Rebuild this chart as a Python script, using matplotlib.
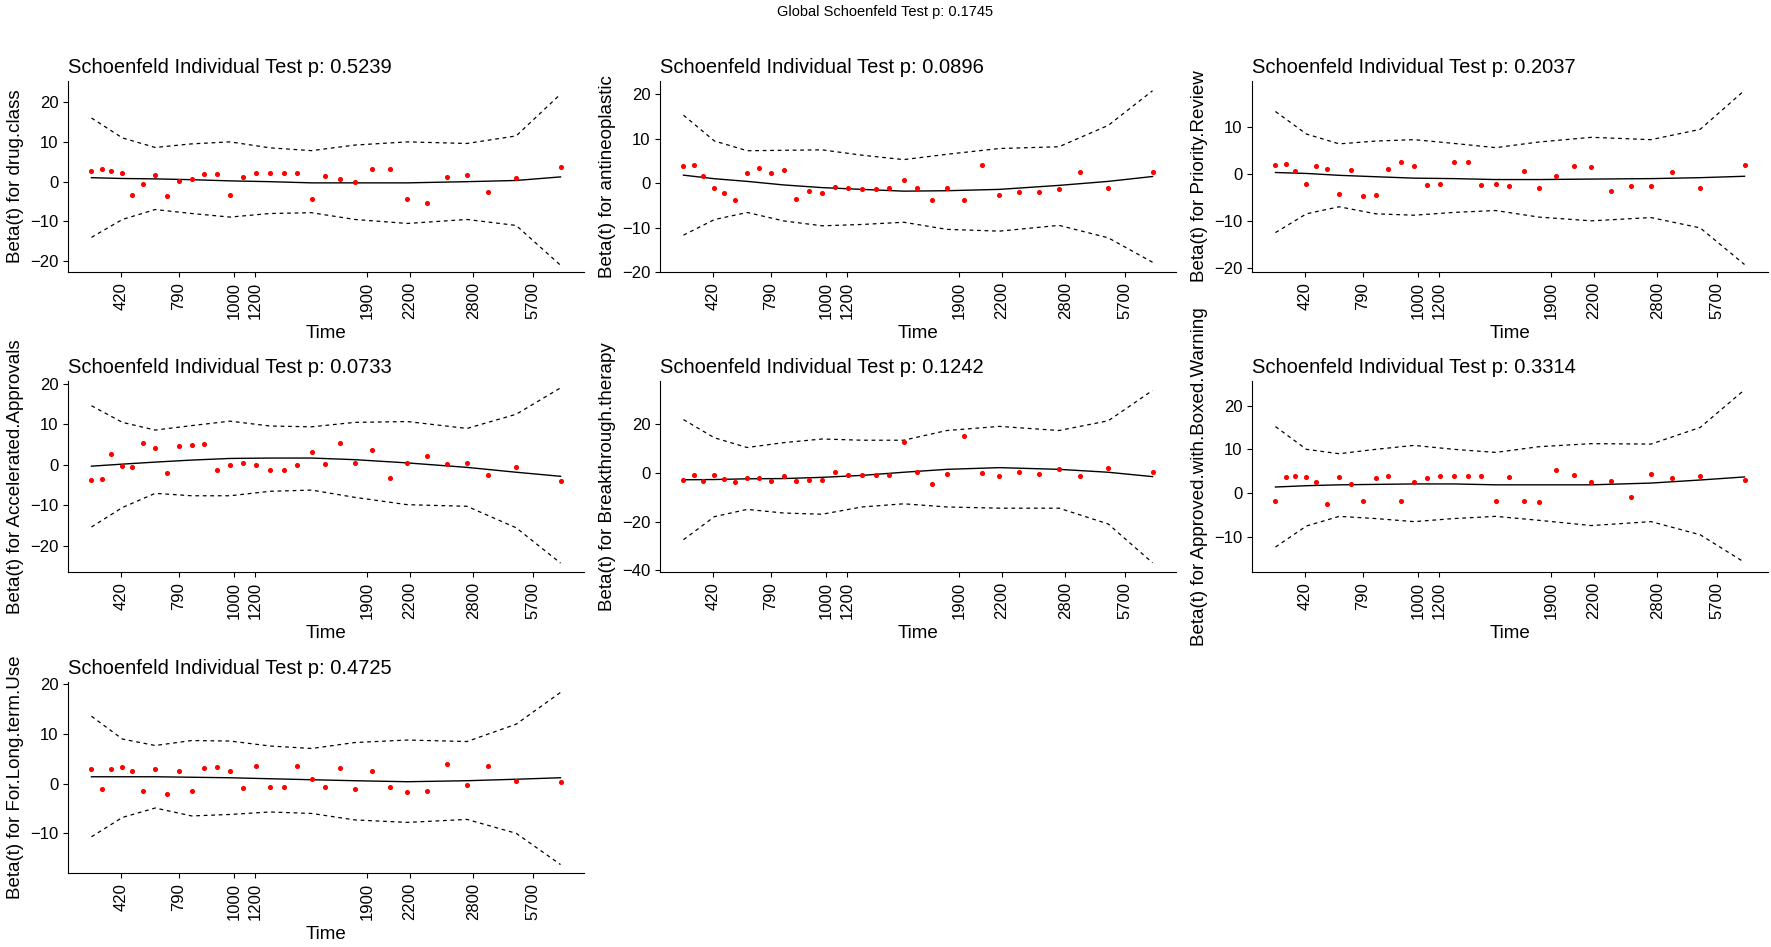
import numpy as np
import matplotlib.pyplot as plt

plt.rcParams['font.family'] = ['Liberation Sans', 'DejaVu Sans']

# transformed (KM) time scale of the event times
KM_TIME = [225, 252, 278, 308, 335, 364, 396, 428, 459, 494, 528, 563, 597, 632, 667, 704,
           741, 778, 816, 853, 892, 932, 977, 1025, 1073, 1126, 1180, 1233, 1290, 1365, 1484]
KNOTS = [0, 3, 6, 9, 12, 15, 18, 21, 24, 27, 29, 30]  # indices where the smooth is given
TICK_POS = [305, 460, 608, 665, 965, 1080, 1250, 1410]
TICK_LAB = ["420", "790", "1000", "1200", "1900", "2200", "2800", "5700"]

PANELS = [
    {"var": "drug.class", "p": 0.5239, "ylim": (-22.7, 25.3), "yticks": [-20, -10, 0, 10, 20],
     "resid": [2.6, 3.1, 2.6, 2.3, -3.4, -0.6, 1.6, -3.6, 0.1, 0.6, 1.9, 1.9, -3.4, 1.1, 2.3, 2.3,
               2.3, 2.3, -4.4, 1.3, 0.6, -0.1, 3.1, 3.3, -4.4, -5.4, 1.1, 1.6, -2.6, 0.8, 3.6],
     "fit": [1.0, 0.8, 0.7, 0.5, 0.2, 0.0, -0.3, -0.3, -0.3, 0.0, 0.3, 1.2],
     "upper": [16, 11, 8.6, 9.5, 10, 8.5, 7.8, 9.2, 10, 9.6, 11.5, 22],
     "lower": [-14, -9.5, -7, -8, -8.9, -8, -7.8, -9.5, -10.5, -9.5, -11, -21]},
    {"var": "antineoplastic", "p": 0.0896, "ylim": (-19.8, 23), "yticks": [-20, -10, 0, 10, 20],
     "resid": [3.8, 4.0, 1.7, -1.0, -2.3, -3.7, 2.4, 3.5, 2.4, 2.9, -3.5, -1.7, -2.3, -0.8, -1.1, -1.4,
               -1.4, -1.1, 0.6, -1.1, -3.9, -1.1, -3.7, 4.0, -2.6, -2.1, -1.9, -1.4, 2.6, -1.2, 2.6],
     "fit": [1.8, 1.0, 0.4, -0.4, -1.0, -1.4, -1.8, -1.7, -1.4, -0.5, 0.4, 1.5],
     "upper": [15.3, 9.5, 7.3, 7.4, 7.5, 6.3, 5.3, 6.5, 7.8, 8.2, 13.0, 20.8],
     "lower": [-11.7, -8.2, -6.6, -8.5, -9.6, -9.3, -8.8, -10.4, -10.8, -9.5, -12.3, -17.8]},
    {"var": "Priority.Review", "p": 0.2037, "ylim": (-20.9, 19.8), "yticks": [-20, -10, 0, 10],
     "resid": [1.9, 2.1, 0.6, -2.2, 1.7, 1.0, -4.3, 0.8, -4.7, -4.5, 1.1, 2.5, 1.7, -2.4, -2.2, 2.5,
               2.5, -2.4, -2.2, -2.6, 0.6, -3.0, -0.4, 1.7, 1.5, -3.7, -2.6, -2.6, 0.4, -3.0, 1.9],
     "fit": [0.3, 0.1, -0.3, -0.6, -0.9, -1.0, -1.2, -1.2, -1.1, -1.0, -0.8, -0.5],
     "upper": [13.3, 8.5, 6.4, 7.0, 7.3, 6.5, 5.6, 6.8, 7.8, 7.3, 9.5, 17.8],
     "lower": [-12.5, -8.5, -7.0, -8.5, -8.8, -8.2, -7.8, -9.2, -10.0, -9.3, -11.5, -19.3]},
    {"var": "Accelerated.Approvals", "p": 0.0733, "ylim": (-26.4, 20.7), "yticks": [-20, -10, 0, 10, 20],
     "resid": [-3.7, -3.4, 2.8, -0.2, -0.4, 5.3, 4.3, -1.9, 4.6, 4.8, 5.1, -1.2, 0.0, 0.6, 0.0, -1.2,
               -1.2, 0.0, 3.1, 0.3, 5.3, 0.6, 3.6, -3.2, 0.6, 2.1, 0.3, 0.6, -2.4, -0.4, -3.9],
     "fit": [-0.3, 0.2, 0.7, 1.2, 1.6, 1.7, 1.7, 1.3, 0.5, -0.6, -1.8, -2.8],
     "upper": [14.6, 10.5, 8.6, 9.7, 10.8, 9.6, 9.4, 10.5, 10.7, 9.0, 12.5, 19.0],
     "lower": [-15.3, -10.5, -7.0, -7.6, -7.6, -6.5, -6.2, -8.0, -9.8, -10.2, -15.5, -24.2]},
    {"var": "Breakthrough.therapy", "p": 0.1242, "ylim": (-40.8, 37.9), "yticks": [-40, -20, 0, 20],
     "resid": [-3.0, -1.0, -3.4, -0.7, -2.6, -3.9, -2.2, -2.2, -3.4, -1.4, -3.4, -3.0, -3.0, 0.3, -1.0, -1.0,
               -1.0, -1.0, 12.7, 0.3, -4.7, -0.6, 15.2, -0.1, -1.4, 0.3, -0.6, 1.5, -1.4, 1.9, 0.3],
     "fit": [-2.8, -2.7, -2.4, -2.3, -1.8, -1.0, 0.3, 1.5, 2.2, 1.5, 0.3, -1.5],
     "upper": [22, 14.5, 10.5, 12.5, 14.0, 13.5, 13.5, 17.5, 19.2, 17.5, 21.5, 34],
     "lower": [-27.5, -18, -15, -16.5, -17, -14, -12.7, -14, -14.5, -14.5, -21, -37]},
    {"var": "Approved.with.Boxed.Warning", "p": 0.3314, "ylim": (-18.0, 25.6), "yticks": [-10, 0, 10, 20],
     "resid": [-1.7, 3.6, 3.8, 3.6, 2.5, -2.4, 3.6, 2.2, -1.9, 3.4, 3.8, -1.7, 2.5, 3.4, 3.8, 3.8,
               3.8, 3.8, -1.9, 3.6, -1.7, -2.1, 5.2, 4.1, 2.5, 2.7, -0.9, 4.3, 3.4, 3.8, 3.1],
     "fit": [1.4, 1.7, 1.9, 2.0, 2.1, 2.1, 1.9, 1.9, 1.9, 2.3, 3.0, 3.7],
     "upper": [15.2, 10.0, 9.0, 10.0, 10.9, 10.0, 9.3, 10.6, 11.3, 11.2, 15.0, 23.6],
     "lower": [-12.3, -7.5, -5.3, -5.8, -6.5, -5.8, -5.3, -6.2, -7.4, -6.5, -9.5, -15.8]},
    {"var": "For.Long.term.Use", "p": 0.4725, "ylim": (-18.0, 20.5), "yticks": [-10, 0, 10, 20],
     "resid": [3.0, -1.1, 3.0, 3.4, 2.6, -1.5, 3.0, -2.1, 2.6, -1.5, 3.2, 3.4, 2.6, -0.9, 3.6, -0.7,
               -0.7, 3.6, 1.0, -0.7, 3.2, -1.1, 2.6, -0.7, -1.7, -1.5, 4.0, -0.3, 3.6, 0.5, 0.3],
     "fit": [1.4, 1.4, 1.4, 1.3, 1.2, 1.0, 0.8, 0.6, 0.4, 0.6, 0.9, 1.2],
     "upper": [13.6, 9.0, 7.7, 8.7, 8.6, 7.6, 7.1, 8.3, 8.8, 8.5, 12.0, 18.4],
     "lower": [-10.7, -6.8, -4.9, -6.5, -6.2, -5.7, -6.0, -7.3, -7.8, -7.2, -10.0, -16.3]},
]


def plot_schoenfeld():
    fig = plt.figure(figsize=(17.71, 9.47), dpi=100)
    W, H = 1771.0, 947.0
    lefts = [68, 660, 1252]
    width = 516
    tops = [81, 381, 682]
    height = 191

    x = np.array(KM_TIME)
    xk = x[KNOTS]
    for i, pan in enumerate(PANELS):
        r, c = divmod(i, 3)
        ax = fig.add_axes([lefts[c] / W, 1 - (tops[r] + height) / H, width / W, height / H])
        ax.scatter(x, pan["resid"], s=7, color="red", zorder=3)
        ax.plot(xk, pan["fit"], color="black", lw=1)
        ax.plot(xk, pan["upper"], color="black", lw=0.9, ls=(0, (3, 3)))
        ax.plot(xk, pan["lower"], color="black", lw=0.9, ls=(0, (3, 3)))

        ax.set_xlim(162, 1547)
        ax.set_ylim(*pan["ylim"])
        ax.set_xticks(TICK_POS)
        ax.set_xticklabels(TICK_LAB, rotation=90, fontsize=12)
        ax.set_yticks(pan["yticks"])
        ax.tick_params(axis="y", labelsize=12)
        ax.spines["top"].set_visible(False)
        ax.spines["right"].set_visible(False)
        ax.set_title(f"Schoenfeld Individual Test p: {pan['p']:.4f}", loc="left", fontsize=14.5)
        ax.set_xlabel("Time", fontsize=13.5)
        ax.set_ylabel(f"Beta(t) for {pan['var']}", fontsize=13.5)

    fig.suptitle("Global Schoenfeld Test p: 0.1745", y=0.995, fontsize=10.5)
    fig.savefig("out.png", dpi=100)


if __name__ == "__main__":
    plot_schoenfeld()
